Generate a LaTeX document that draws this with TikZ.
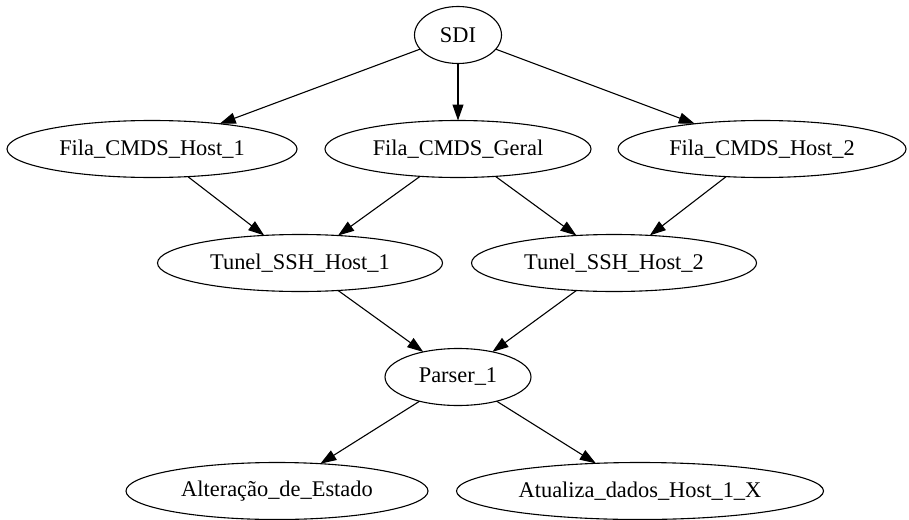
\documentclass[tikz,border=0pt]{standalone}
\usepackage{fontspec}
\setmainfont{Liberation Serif}
\usepackage{tikz}
\usetikzlibrary{arrows.meta,shapes.geometric}

\begin{document}
\begin{tikzpicture}[x=1pt,y=-1pt,
  elip/.style={draw,ellipse,line width=1.1pt,inner sep=0pt,outer sep=0pt,minimum height=57pt,
    font=\fontsize{22.4}{26}\selectfont},
  seta/.style={-{Triangle[length=16pt,width=11pt]},line width=1.1pt}]
 \useasboundingbox (0,0) rectangle (909,519);

 \node (sdi) at (458,35) [elip,minimum width=87pt] {SDI}; % topo
 \node (fh1) at (152,149) [elip,minimum width=290pt] {Fila\_CMDS\_Host\_1}; % fila do host 1
 \node (fg) at (458,149) [elip,minimum width=266pt] {Fila\_CMDS\_Geral}; % fila geral
 \node (fh2) at (762,149) [elip,minimum width=288pt] {Fila\_CMDS\_Host\_2}; % fila do host 2
 \node (t1) at (300,263) [elip,minimum width=285pt] {Tunel\_SSH\_Host\_1}; % tunel 1
 \node (t2) at (614,263) [elip,minimum width=285pt] {Tunel\_SSH\_Host\_2}; % tunel 2
 \node (p1) at (458,377) [elip,minimum width=146pt] {Parser\_1}; % parser
 \node (alt) at (277,491) [elip,minimum width=302pt] {Alteração\_de\_Estado}; % folha esquerda
 \node (atu) at (640,491) [elip,minimum width=367pt] {Atualiza\_dados\_Host\_1\_X}; % folha direita

 \draw [seta] (sdi) -- (fh1);
 \draw [seta] (sdi) -- (fg);
 \draw [seta] (sdi) -- (fh2);
 \draw [seta] (fh1) -- (t1);
 \draw [seta] (fg) -- (t1);
 \draw [seta] (fg) -- (t2);
 \draw [seta] (fh2) -- (t2);
 \draw [seta] (t1) -- (p1);
 \draw [seta] (t2) -- (p1);
 \draw [seta] (p1) -- (alt);
 \draw [seta] (p1) -- (atu);
\end{tikzpicture}
\end{document}
